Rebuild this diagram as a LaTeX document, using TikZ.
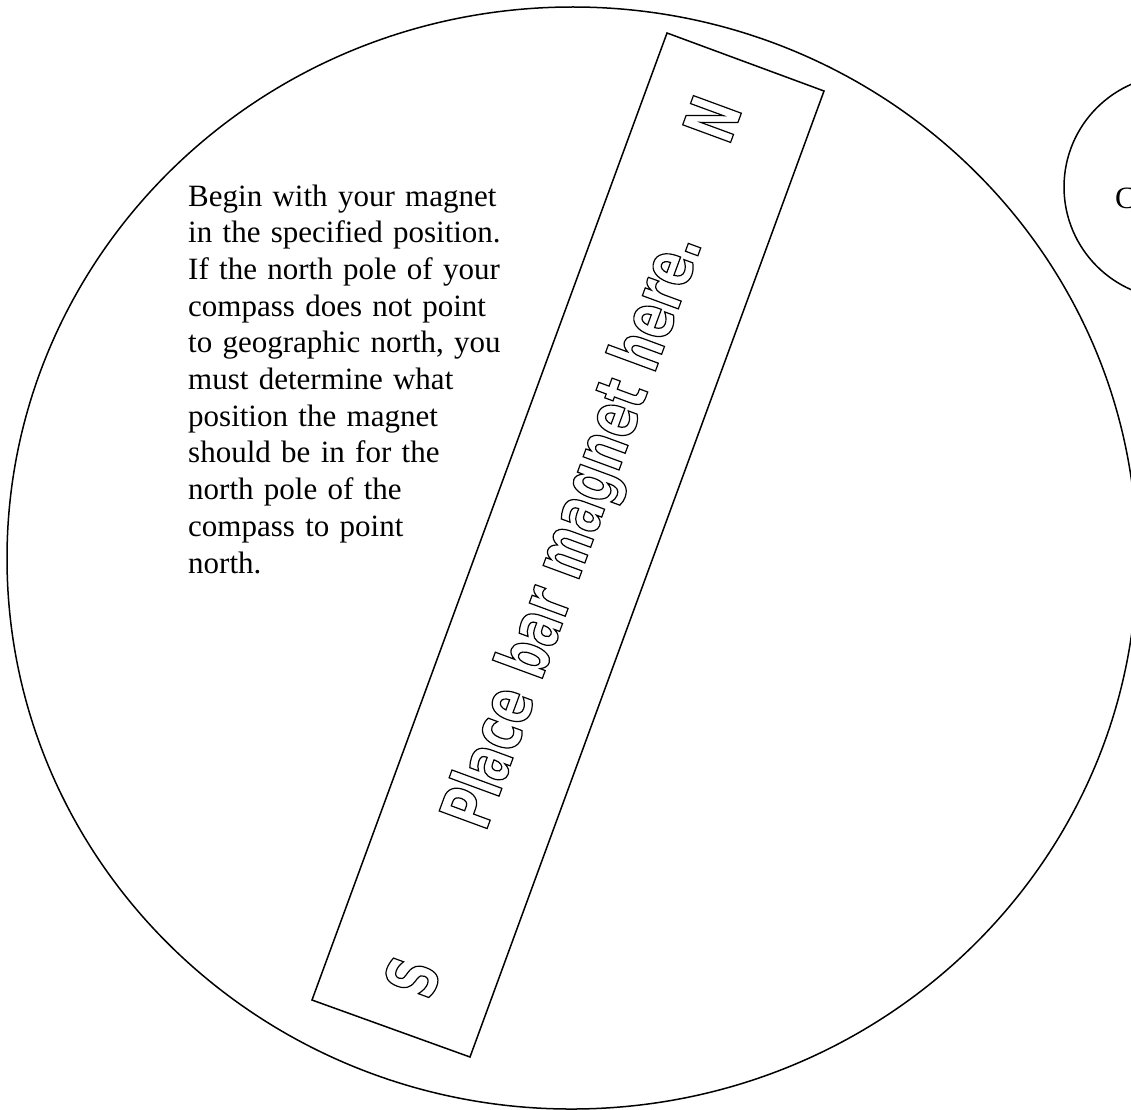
\documentclass[tikz,border=0pt]{standalone}
\usepackage{fontspec}
\setmainfont{Liberation Serif}
\newfontfamily\outlinefont{DejaVu Sans Bold}[FakeStretch=0.68]
\newcommand\outlined[1]{\special{pdf:literal direct 1 Tr 1.2 w}#1\special{pdf:literal direct 0 Tr}}
\tikzset{
  shapeline/.style={draw=black, line width=1.5pt},
  bodytext/.style={anchor=base west, inner sep=0pt, font=\fontsize{31}{36.7}\selectfont},
  poletext/.style={inner sep=0pt, rotate=69.8, font=\outlinefont\fontsize{70}{70}\selectfont}
}
\begin{document}
\begin{tikzpicture}[x=1pt,y=-1pt]
\useasboundingbox (0,0) rectangle (1131,1109);
% large compass board
\draw[shapeline] (572,558) ellipse[x radius=565, y radius=551, rotate=1];
% small compass circle (partly off the page)
\draw[shapeline] (1176,187) circle[radius=112];
\node[bodytext] (comp) at (1115,208) {C};
% bar magnet outline
\draw[shapeline] (667,33) -- (824,91) -- (470,1057) -- (312,1000) -- cycle;
% instructions
\node[bodytext, text width=420pt, align=left] (instr) at (188,206) {Begin with your magnet\\in the specified position.\\If the north pole of your\\compass does not point\\to geographic north, you\\must determine what\\position the magnet\\should be in for the\\north pole of the\\compass to point\\north.};
% magnet labels
\node[poletext, anchor=base] (label) at (594,538) {\outlined{Place bar magnet here.}};
\node[poletext] (npole) at (712,119) {\outlined{N}};
\node[poletext] (spole) at (412,977) {\outlined{S}};
\end{tikzpicture}
\end{document}
